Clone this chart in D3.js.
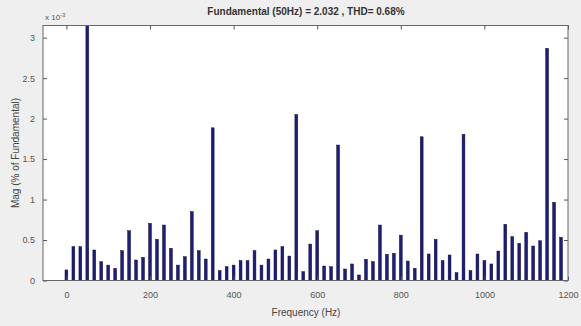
<!DOCTYPE html>
<html><head><meta charset="utf-8">
<script src="https://cdn.jsdelivr.net/npm/d3@7"></script>
<style>
html,body{margin:0;padding:0;background:#efefef;}
svg{display:block;font-family:"Liberation Sans",Arial,sans-serif;}
</style></head>
<body>
<svg id="chart" width="581" height="326"></svg>
<script>
// Harmonic index k -> frequency k*50/3 Hz
const binStepHz = 50 / 3;
const magnitudes = [
  0.13, 0.417, 0.417, 3.15, 0.377, 0.232, 0.19, 0.15, 0.368, 0.615,
  0.253, 0.286, 0.706, 0.508, 0.685, 0.397, 0.19, 0.294, 0.85, 0.368,
  0.265, 1.886, 0.121, 0.17, 0.19, 0.245, 0.245, 0.368, 0.19, 0.265,
  0.377, 0.417, 0.302, 2.05, 0.109, 0.45, 0.615, 0.179, 0.17, 1.673,
  0.142, 0.204, 0.068, 0.262, 0.232, 0.685, 0.323, 0.335, 0.56, 0.24,
  0.15, 1.775, 0.327, 0.508, 0.245, 0.315, 0.096, 1.805, 0.121, 0.327,
  0.245, 0.204, 0.364, 0.694, 0.541, 0.459, 0.595, 0.426, 0.491, 2.867,
  0.965, 0.533
];
const xTicks = [0, 200, 400, 600, 800, 1000, 1200];
const yTicks = [0, 0.5, 1, 1.5, 2, 2.5, 3];
const titleText = "Fundamental (50Hz) = 2.032 , THD= 0.68%";
const xLabelText = "Frequency (Hz)";
const yLabelText = "Mag (% of Fundamental)";

const data = magnitudes.map((v, k) => ({f: k * binStepHz, v}));

const svg = d3.select("#chart");
const L = 43, R = 568, T = 25.5, B = 280.5;
const x = d3.scaleLinear().domain([-56, 1200]).range([L, R]);
const y = d3.scaleLinear().domain([0, 3.15]).range([B, T]);

svg.append("rect").attr("x", L).attr("y", T).attr("width", R - L).attr("height", B - T)
  .attr("fill", "#fff");

const clip = svg.append("clipPath").attr("id", "clp");
clip.append("rect").attr("x", L).attr("y", T).attr("width", R - L).attr("height", B - T);

const bw = 2.8;
svg.append("g").attr("clip-path", "url(#clp)")
  .selectAll("rect").data(data).join("rect")
  .attr("x", d => x(d.f) - bw / 2)
  .attr("y", d => y(d.v))
  .attr("width", bw)
  .attr("height", d => y(0) - y(d.v))
  .attr("fill", "#1c1c86")
  .attr("stroke", "#0a0a30")
  .attr("stroke-width", 0.5);

const tickCol = "#555";
const fmt = d => String(d);
const gx = svg.append("g").attr("transform", `translate(0,${B})`)
  .call(d3.axisBottom(x).tickValues(xTicks).tickSizeInner(-4).tickSizeOuter(0).tickPadding(11).tickFormat(fmt));
const gxt = svg.append("g").attr("transform", `translate(0,${T})`)
  .call(d3.axisTop(x).tickValues(xTicks).tickSizeInner(-4).tickSizeOuter(0).tickFormat(""));
const gy = svg.append("g").attr("transform", `translate(${L},0)`)
  .call(d3.axisLeft(y).tickValues(yTicks).tickSizeInner(-4).tickSizeOuter(0).tickPadding(8).tickFormat(fmt));
const gyr = svg.append("g").attr("transform", `translate(${R},0)`)
  .call(d3.axisRight(y).tickValues(yTicks).tickSizeInner(-4).tickSizeOuter(0).tickFormat(""));

[gx, gxt, gy, gyr].forEach(g => {
  g.select(".domain").remove();
  g.selectAll(".tick line").attr("stroke", tickCol);
  g.selectAll(".tick text").attr("fill", "#555").style("font-size", "9px")
    .style("font-family", "'Liberation Sans',Arial,sans-serif");
});

svg.append("rect").attr("x", L).attr("y", T).attr("width", R - L).attr("height", B - T)
  .attr("fill", "none").attr("stroke", "#666").attr("stroke-width", 1);

const ex = svg.append("text").attr("x", 45).attr("y", 20).attr("fill", "#555")
  .style("font-size", "8px");
ex.append("tspan").text("x 10");
ex.append("tspan").attr("dy", -3).style("font-size", "6px").text("-3");

svg.append("text").attr("x", 306).attr("y", 15).attr("text-anchor", "middle")
  .attr("fill", "#333").style("font-size", "10px").style("font-weight", "bold")
  .text(titleText);

svg.append("text").attr("x", 306).attr("y", 316).attr("text-anchor", "middle")
  .attr("fill", "#444").style("font-size", "10px").text(xLabelText);

svg.append("text").attr("transform", `translate(19,${(T + B) / 2}) rotate(-90)`)
  .attr("text-anchor", "middle").attr("fill", "#444").style("font-size", "10px")
  .text(yLabelText);
</script>
</body></html>
